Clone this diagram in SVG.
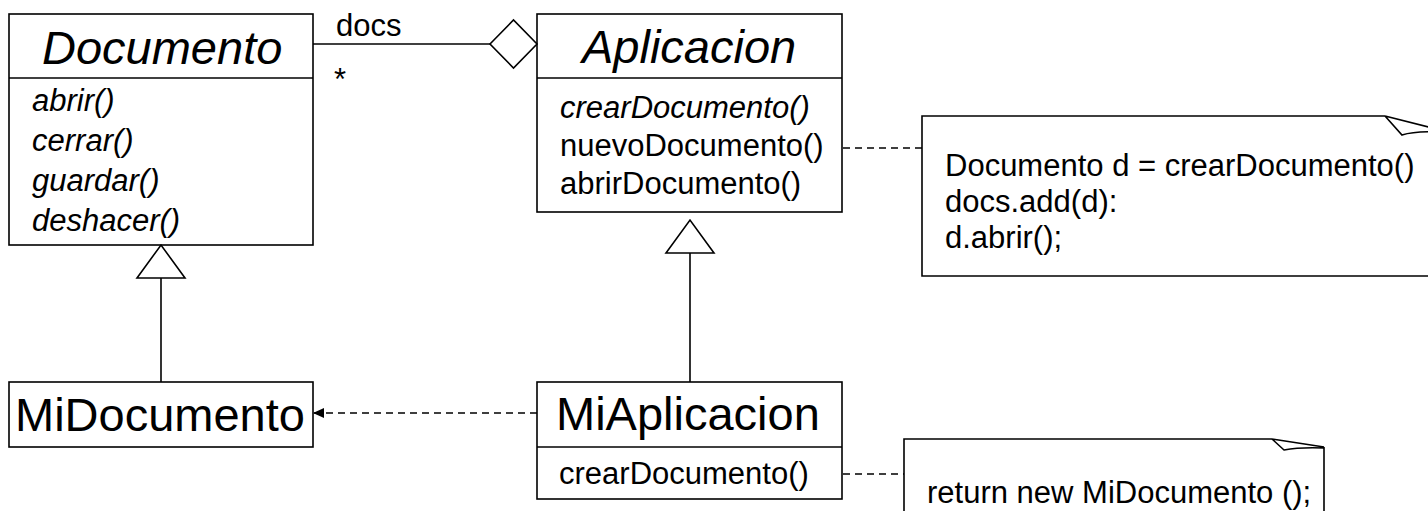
<svg xmlns="http://www.w3.org/2000/svg" width="1428" height="511" viewBox="0 0 1428 511">
  <style>
    .box { fill: #ffffff; stroke: #000000; stroke-width: 1.6; }
    .rule { stroke: #000000; stroke-width: 1.6; fill: none; }
    .head { font-family: "Liberation Sans", Arial, sans-serif; font-size: 47px; fill: #000000; }
    .body { font-family: "Liberation Sans", Arial, sans-serif; font-size: 31px; fill: #000000; }
    .abstract { font-style: italic; }
    .link { stroke: #000000; stroke-width: 1.6; fill: none; }
    .dash { stroke: #000000; stroke-width: 1.6; fill: none; stroke-dasharray: 7 5; }
  </style>
  <defs>
    <!-- generalization: hollow triangle, tip on the superclass -->
    <marker id="gen" markerUnits="userSpaceOnUse" viewBox="-1 -1 36 50" markerWidth="36" markerHeight="50" refX="33" refY="24" orient="auto" overflow="visible">
      <path d="M0,0 L33,24 L0,48 Z" fill="#ffffff" stroke="#000000" stroke-width="1.6"/>
    </marker>
    <!-- aggregation: hollow diamond on the owner -->
    <marker id="agg" markerUnits="userSpaceOnUse" viewBox="-1 -1 50 50" markerWidth="50" markerHeight="50" refX="47" refY="24" orient="auto" overflow="visible">
      <path d="M0,24 L23.5,0 L47,24 L23.5,48 Z" fill="#ffffff" stroke="#000000" stroke-width="1.6"/>
    </marker>
    <!-- dependency: small filled arrowhead -->
    <marker id="dep" markerUnits="userSpaceOnUse" viewBox="0 0 11 10" markerWidth="11" markerHeight="10" refX="11" refY="5" orient="auto" overflow="visible">
      <path d="M0,0 L11,5 L0,10 Z" fill="#000000"/>
    </marker>
  </defs>

  <rect width="1428" height="511" fill="#ffffff"/>

  <!-- abstract product -->
  <g id="documento">
    <rect class="box" x="9" y="14" width="304" height="231"/>
    <line class="rule" x1="9" y1="78" x2="313" y2="78"/>
    <text class="head abstract" x="42" y="64">Documento</text>
    <text class="body abstract" x="32" y="111">abrir()</text>
    <text class="body abstract" x="32" y="151">cerrar()</text>
    <text class="body abstract" x="32" y="191">guardar()</text>
    <text class="body abstract" x="32" y="231">deshacer()</text>
  </g>

  <!-- abstract creator -->
  <g id="aplicacion">
    <rect class="box" x="537" y="14" width="305" height="198"/>
    <line class="rule" x1="537" y1="78" x2="842" y2="78"/>
    <text class="head abstract" x="582" y="63">Aplicacion</text>
    <text class="body abstract" x="560" y="118">crearDocumento()</text>
    <text class="body" x="560" y="156">nuevoDocumento()</text>
    <text class="body" x="560" y="194">abrirDocumento()</text>
  </g>

  <!-- concrete product -->
  <g id="midocumento">
    <rect class="box" x="9" y="382" width="304" height="65"/>
    <text class="head" x="15" y="431">MiDocumento</text>
  </g>

  <!-- concrete creator -->
  <g id="miaplicacion">
    <rect class="box" x="537" y="382" width="305" height="117"/>
    <line class="rule" x1="537" y1="447" x2="842" y2="447"/>
    <text class="head" x="556" y="430">MiAplicacion</text>
    <text class="body" x="559" y="484">crearDocumento()</text>
  </g>

  <!-- note on nuevoDocumento() -->
  <g id="nota-nuevo">
    <path class="box" d="M1440,128 L1440,276 L922,276 L922,116 L1385,116"/>
    <path class="rule" d="M1385,116 L1440,130 M1385,116 L1402,135 Q1415,131 1440,132"/>
    <text class="body" x="945" y="176">Documento d = crearDocumento()</text>
    <text class="body" x="945" y="212">docs.add(d):</text>
    <text class="body" x="945" y="248">d.abrir();</text>
  </g>

  <!-- note on crearDocumento() -->
  <g id="nota-crear">
    <path class="box" d="M1324,447 L1324,520 L904,520 L904,439 L1272,439"/>
    <path class="rule" d="M1272,439 L1324,447 M1272,439 L1284,450 Q1300,447 1324,448"/>
    <text class="body" x="927" y="503">return new MiDocumento ();</text>
  </g>

  <g id="connectors">
    <!-- aggregation: Aplicacion owns docs -->
    <line class="link" x1="313" y1="44" x2="537" y2="44" marker-end="url(#agg)"/>
    <text class="body" x="336" y="36">docs</text>
    <text class="body" x="334" y="90">*</text>
    <!-- generalizations -->
    <line class="link" x1="161" y1="382" x2="161" y2="245" marker-end="url(#gen)"/>
    <line class="link" x1="690" y1="382" x2="690" y2="220" marker-end="url(#gen)"/>
    <!-- MiAplicacion creates MiDocumento -->
    <line class="dash" x1="537" y1="413" x2="313" y2="413" marker-end="url(#dep)"/>
    <!-- note anchors -->
    <line class="dash" x1="843" y1="148" x2="922" y2="148"/>
    <line class="dash" x1="843" y1="474" x2="904" y2="474"/>
  </g>
</svg>
